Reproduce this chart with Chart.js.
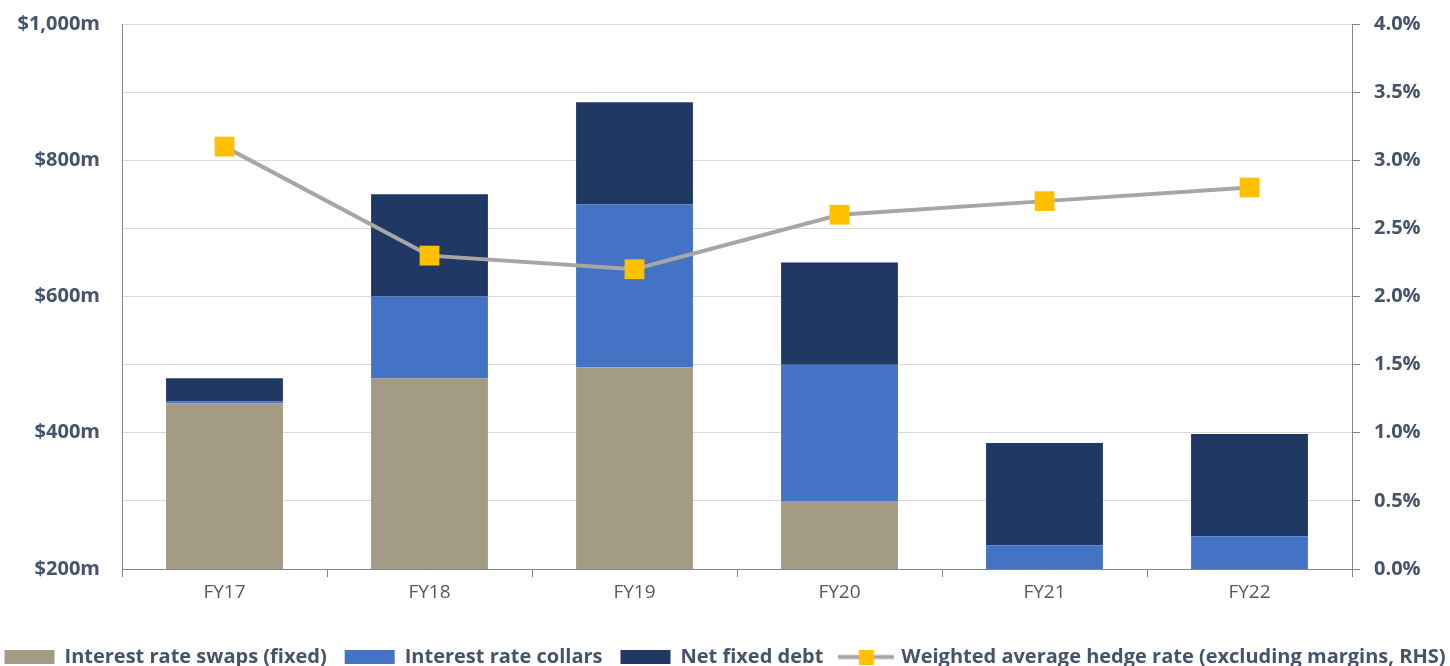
<!DOCTYPE html>
<html>
<head>
<meta charset="utf-8">
<script src="https://cdn.jsdelivr.net/npm/chart.js@4.4.0/dist/chart.umd.min.js"></script>
<style>
  html, body { margin: 0; padding: 0; background: #fff; }
  #wrap { width: 1450px; height: 666px; }
</style>
</head>
<body>
<div id="wrap"><canvas id="myChart" width="1450" height="666"></canvas></div>
<script>
const years = ['FY17', 'FY18', 'FY19', 'FY20', 'FY21', 'FY22']
const swaps = [443, 480, 496, 300, 0, 0]      // $m
const collars = [3, 120, 239, 200, 235, 248]  // $m
const netFixed = [34, 150, 150, 150, 150, 150] // $m
const hedgeRate = [3.1, 2.3, 2.2, 2.6, 2.7, 2.8] // %

const textCol = '#44546A'
const font = '"Open Sans", Lato, sans-serif'

// little swatch for the line series in the legend: grey line with a yellow square
const lineSwatch = document.createElement('canvas')
lineSwatch.width = 56
lineSwatch.height = 15
let sc = lineSwatch.getContext('2d')
sc.strokeStyle = '#A6A6A6'
sc.lineWidth = 4
sc.beginPath()
sc.moveTo(0, 7.5)
sc.lineTo(56, 7.5)
sc.stroke()
sc.fillStyle = '#FFC000'
sc.fillRect(20.5, 0, 15, 15)

let ctx = document.getElementById('myChart').getContext('2d')

let myChart = new Chart(ctx, {
  type: 'bar',
  data: {
    labels: years,
    datasets: [
      {
        type: 'line',
        label: 'Weighted average hedge rate (excluding margins, RHS)',
        data: hedgeRate,
        yAxisID: 'y1',
        borderColor: '#A6A6A6',
        borderWidth: 4,
        pointStyle: 'rect',
        pointRadius: 14,
        pointBackgroundColor: '#FFC000',
        pointBorderColor: '#FFC000',
        pointBorderWidth: 0,
        tension: 0,
        order: 0
      },
      { label: 'Interest rate swaps (fixed)', data: swaps, backgroundColor: '#A39B84', order: 1 },
      { label: 'Interest rate collars', data: collars, backgroundColor: '#4472C4', order: 1 },
      { label: 'Net fixed debt', data: netFixed, backgroundColor: '#203864', order: 1 }
    ]
  },
  options: {
    responsive: false,
    animation: false,
    // negative side padding gives the bottom legend the full canvas width
    layout: { padding: { top: 0, left: -20, right: -20, bottom: -11 } },
    datasets: {
      bar: { barPercentage: 0.57, categoryPercentage: 1 }
    },
    scales: {
      x: {
        stacked: true,
        grid: { display: true, drawOnChartArea: false, color: '#868686', tickLength: 8, offset: true },
        border: { color: '#868686', width: 1 },
        ticks: { color: '#595959', font: { family: font, size: 19 }, padding: 4 },
        afterFit: s => { s.height = 60 }
      },
      y: {
        stacked: true,
        position: 'left',
        min: 200,
        max: 1000,
        // invisible tick marks keep the labels away from the axis line
        grid: { color: '#D9D9D9', tickLength: 22, tickColor: 'rgba(0,0,0,0)' },
        border: { color: '#868686', width: 1 },
        ticks: {
          stepSize: 100,
          color: textCol,
          font: { family: font, size: 20, weight: 'bold', lineHeight: 1 },
          padding: 0,
          callback: v => v % 200 === 0 ? '$' + v.toLocaleString('en-US') + 'm' : ''
        },
        afterFit: s => { s.width = 142 }
      },
      y1: {
        position: 'right',
        min: 0,
        max: 4,
        grid: { drawOnChartArea: false, color: '#868686', tickLength: 8 },
        border: { color: '#868686', width: 1 },
        ticks: {
          stepSize: 0.5,
          color: textCol,
          font: { family: font, size: 20, weight: 'bold', lineHeight: 1 },
          padding: 14,
          callback: v => v.toFixed(1) + '%'
        },
        afterFit: s => { s.width = 118 }
      }
    },
    plugins: {
      tooltip: { enabled: false },
      legend: {
        position: 'bottom',
        labels: {
          color: textCol,
          font: { family: font, size: 20, weight: 'bold' },
          usePointStyle: true,
          pointStyleWidth: 50,
          boxHeight: 14,
          padding: 18,
          sort: (a, b) => (a.datasetIndex === 0) - (b.datasetIndex === 0),
          generateLabels: chart => {
            let items = Chart.defaults.plugins.legend.labels.generateLabels(chart)
            items.forEach(it => {
              if (it.datasetIndex === 0) {
                it.pointStyle = lineSwatch
              } else {
                it.pointStyle = 'rect'
                it.lineWidth = 0
                it.strokeStyle = it.fillStyle
              }
            })
            return items
          }
        }
      }
    }
  }
})
</script>
</body>
</html>
